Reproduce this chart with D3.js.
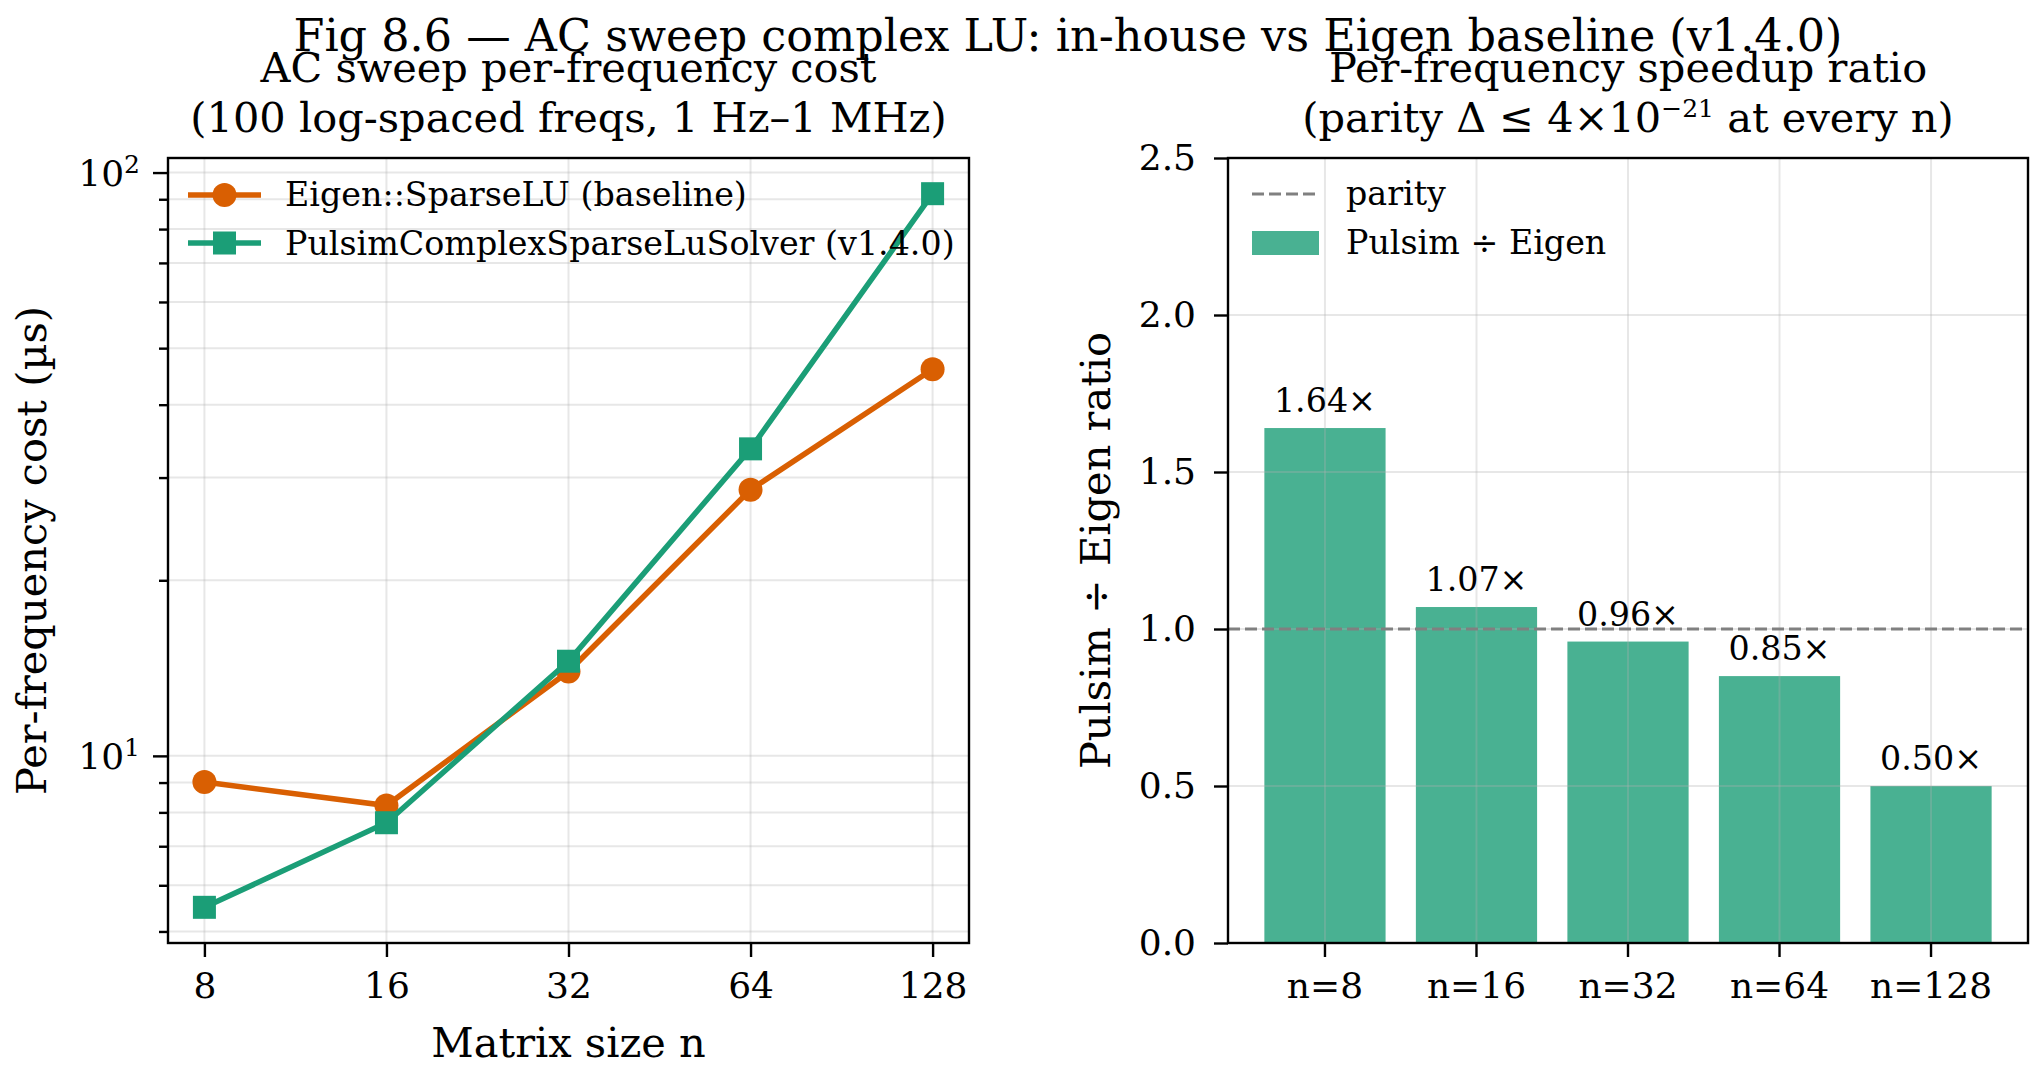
<!DOCTYPE html>
<html>
<head>
<meta charset="utf-8">
<script src="https://cdn.jsdelivr.net/npm/d3@7"></script>
<style>
  body { margin: 0; background: #fff; }
  text { font-family: "DejaVu Serif", serif; fill: #000; }
</style>
</head>
<body>
<svg id="chart"></svg>
<script>
// Data
var nSizes = [8, 16, 32, 64, 128];
var eigenCost = [9.02, 8.22, 13.95, 28.6, 46.0];     // Eigen::SparseLU, us per frequency
var pulsimCost = [5.50, 7.68, 14.53, 33.6, 92.0];    // Pulsim solver, us per frequency
var ratioLabels = ["n=8", "n=16", "n=32", "n=64", "n=128"];
var ratios = [1.64, 1.07, 0.96, 0.85, 0.50];
var ratioTicks = [0, 0.5, 1.0, 1.5, 2.0, 2.5];

var w = 2042, h = 1082;
var plotTop = 158, plotBottom = 943;
var L = {x0: 168, x1: 969};
var R = {x0: 1228, x1: 2028};
var orange = "#d95f02", green = "#1b9e77";

var svg = d3.select("#chart").attr("width", w).attr("height", h);

// ---------- left panel: per-frequency cost (log-log) ----------
var xScale = d3.scaleLog().base(2)
    .domain([8 / Math.pow(2, 0.2), 128 * Math.pow(2, 0.2)])
    .range([L.x0, L.x1]);

var all = eigenCost.concat(pulsimCost);
var lo = Math.log10(d3.min(all)), hi = Math.log10(d3.max(all)), m = (hi - lo) * 0.05;
var yScale = d3.scaleLog()
    .domain([Math.pow(10, lo - m), Math.pow(10, hi + m)])
    .range([plotBottom, plotTop]);

var yAll = yScale.ticks();
var yMajor = yAll.filter(d => Math.abs(Math.log10(d) - Math.round(Math.log10(d))) < 1e-9);
var yMinor = yAll.filter(d => yMajor.indexOf(d) < 0);

var gl = svg.append("g");

// grid
gl.selectAll(".hg").data(yAll).enter().append("line")
  .attr("x1", L.x0).attr("x2", L.x1)
  .attr("y1", d => yScale(d)).attr("y2", d => yScale(d))
  .attr("stroke", "#b0b0b0").attr("stroke-opacity", 0.3).attr("stroke-width", 2);
gl.selectAll(".vg").data(nSizes).enter().append("line")
  .attr("x1", d => xScale(d)).attr("x2", d => xScale(d))
  .attr("y1", plotTop).attr("y2", plotBottom)
  .attr("stroke", "#b0b0b0").attr("stroke-opacity", 0.3).attr("stroke-width", 2);

var line = d3.line().x((d, i) => xScale(nSizes[i])).y(d => yScale(d));

// Eigen series
gl.append("path").datum(eigenCost).attr("d", line)
  .attr("fill", "none").attr("stroke", orange).attr("stroke-width", 5.5);
gl.selectAll(".ec").data(eigenCost).enter().append("circle")
  .attr("cx", (d, i) => xScale(nSizes[i])).attr("cy", d => yScale(d))
  .attr("r", 12).attr("fill", orange);

// Pulsim series
gl.append("path").datum(pulsimCost).attr("d", line)
  .attr("fill", "none").attr("stroke", green).attr("stroke-width", 5.5);
gl.selectAll(".pc").data(pulsimCost).enter().append("rect")
  .attr("x", (d, i) => xScale(nSizes[i]) - 11.5).attr("y", d => yScale(d) - 11.5)
  .attr("width", 23).attr("height", 23).attr("fill", green);

// axes
gl.append("g").attr("transform", `translate(0,${plotBottom})`)
  .call(d3.axisBottom(xScale).tickValues(nSizes).tickFormat(d3.format("d"))
        .tickSize(14).tickPadding(15));
var yAxisL = gl.append("g").attr("transform", `translate(${L.x0},0)`)
  .call(d3.axisLeft(yScale).tickValues(yMajor).tickSize(15).tickPadding(13).tickFormat(""));
gl.append("g").attr("transform", `translate(${L.x0},0)`)
  .call(d3.axisLeft(yScale).tickValues(yMinor).tickSize(9).tickFormat(""));

// log tick labels with superscript exponent
yAxisL.selectAll(".tick text").each(function(d) {
  var t = d3.select(this).attr("dy", null).attr("y", 13);
  t.append("tspan").text("10");
  t.append("tspan").attr("font-size", 25).attr("dy", -13).text(Math.round(Math.log10(d)));
});

gl.append("rect").attr("x", L.x0).attr("y", plotTop)
  .attr("width", L.x1 - L.x0).attr("height", plotBottom - plotTop)
  .attr("fill", "none").attr("stroke", "#000").attr("stroke-width", 2.4);

// axis labels + title
gl.append("text").attr("x", (L.x0 + L.x1) / 2).attr("y", 1057)
  .attr("text-anchor", "middle").attr("font-size", 41.5).text("Matrix size n");
gl.append("text").attr("transform", `translate(46,${(plotTop + plotBottom) / 2}) rotate(-90)`)
  .attr("text-anchor", "middle").attr("font-size", 41.5).text("Per-frequency cost (\u00b5s)");
gl.append("text").attr("x", (L.x0 + L.x1) / 2).attr("y", 82)
  .attr("text-anchor", "middle").attr("font-size", 41.5).text("AC sweep per-frequency cost");
gl.append("text").attr("x", (L.x0 + L.x1) / 2).attr("y", 132)
  .attr("text-anchor", "middle").attr("font-size", 41.5).text("(100 log-spaced freqs, 1 Hz\u20131 MHz)");

// legend
var legL = gl.append("g");
legL.append("line").attr("x1", 188).attr("x2", 261).attr("y1", 195).attr("y2", 195)
  .attr("stroke", orange).attr("stroke-width", 5.5);
legL.append("circle").attr("cx", 224.5).attr("cy", 195).attr("r", 12).attr("fill", orange);
legL.append("text").attr("x", 285).attr("y", 206).attr("font-size", 33.3).text("Eigen::SparseLU (baseline)");
legL.append("line").attr("x1", 188).attr("x2", 261).attr("y1", 243).attr("y2", 243)
  .attr("stroke", green).attr("stroke-width", 5.5);
legL.append("rect").attr("x", 213).attr("y", 231.5).attr("width", 23).attr("height", 23).attr("fill", green);
legL.append("text").attr("x", 285).attr("y", 255).attr("font-size", 33.3).text("PulsimComplexSparseLuSolver (v1.4.0)");

// ---------- right panel: speedup ratio bars ----------
var xBand = d3.scaleBand().domain(ratioLabels).range([R.x0, R.x1])
  .paddingInner(0.2).paddingOuter(0.24);
var yRatio = d3.scaleLinear().domain([0, 2.5]).range([plotBottom, plotTop]);

var gr = svg.append("g");

gr.selectAll(".bar").data(ratios).enter().append("rect")
  .attr("x", (d, i) => xBand(ratioLabels[i])).attr("width", xBand.bandwidth())
  .attr("y", d => yRatio(d)).attr("height", d => plotBottom - yRatio(d))
  .attr("fill", green).attr("fill-opacity", 0.8);

// grid sits over the bars
gr.selectAll(".hg").data(ratioTicks).enter().append("line")
  .attr("x1", R.x0).attr("x2", R.x1)
  .attr("y1", d => yRatio(d)).attr("y2", d => yRatio(d))
  .attr("stroke", "#b0b0b0").attr("stroke-opacity", 0.3).attr("stroke-width", 2);
gr.selectAll(".vg").data(ratioLabels).enter().append("line")
  .attr("x1", d => xBand(d) + xBand.bandwidth() / 2).attr("x2", d => xBand(d) + xBand.bandwidth() / 2)
  .attr("y1", plotTop).attr("y2", plotBottom)
  .attr("stroke", "#b0b0b0").attr("stroke-opacity", 0.3).attr("stroke-width", 2);

// parity line
gr.append("line").attr("x1", R.x0).attr("x2", R.x1)
  .attr("y1", yRatio(1)).attr("y2", yRatio(1))
  .attr("stroke", "#808080").attr("stroke-width", 3).attr("stroke-dasharray", "12,5");

// bar value labels
gr.selectAll(".lbl").data(ratios).enter().append("text")
  .attr("x", (d, i) => xBand(ratioLabels[i]) + xBand.bandwidth() / 2)
  .attr("y", d => yRatio(d) - 16)
  .attr("text-anchor", "middle").attr("font-size", 33.3)
  .text(d => d3.format(".2f")(d) + "\u00d7");

gr.append("g").attr("transform", `translate(0,${plotBottom})`)
  .call(d3.axisBottom(xBand).tickSize(14).tickPadding(15));
gr.append("g").attr("transform", `translate(${R.x0},0)`)
  .call(d3.axisLeft(yRatio).tickValues(ratioTicks).tickFormat(d3.format(".1f"))
        .tickSize(14).tickPadding(18));

gr.append("rect").attr("x", R.x0).attr("y", plotTop)
  .attr("width", R.x1 - R.x0).attr("height", plotBottom - plotTop)
  .attr("fill", "none").attr("stroke", "#000").attr("stroke-width", 2.4);

gr.append("text").attr("transform", `translate(1110,${(plotTop + plotBottom) / 2}) rotate(-90)`)
  .attr("text-anchor", "middle").attr("font-size", 41.5).text("Pulsim \u00f7 Eigen ratio");
gr.append("text").attr("x", (R.x0 + R.x1) / 2).attr("y", 82)
  .attr("text-anchor", "middle").attr("font-size", 41.5).text("Per-frequency speedup ratio");
var t2 = gr.append("text").attr("x", (R.x0 + R.x1) / 2).attr("y", 132)
  .attr("text-anchor", "middle").attr("font-size", 41.5);
t2.append("tspan").text("(parity \u0394 \u2264 4\u00d710");
t2.append("tspan").attr("font-size", 25).attr("dy", -15).text("\u221221");
t2.append("tspan").attr("dy", 15).text(" at every n)");

// legend
var legR = gr.append("g");
legR.append("line").attr("x1", 1252).attr("x2", 1319).attr("y1", 194).attr("y2", 194)
  .attr("stroke", "#808080").attr("stroke-width", 3).attr("stroke-dasharray", "12,5");
legR.append("text").attr("x", 1346).attr("y", 205).attr("font-size", 33.3).text("parity");
legR.append("rect").attr("x", 1252).attr("y", 231).attr("width", 67).attr("height", 24)
  .attr("fill", green).attr("fill-opacity", 0.8);
legR.append("text").attr("x", 1346).attr("y", 254).attr("font-size", 33.3).text("Pulsim \u00f7 Eigen");

// shared tick styling
svg.selectAll(".tick text").attr("font-size", 36).attr("font-family", "DejaVu Serif");
svg.selectAll(".tick line").attr("stroke", "#000").attr("stroke-width", 2.4);
svg.selectAll(".domain").remove();

// figure title
svg.append("text").attr("x", 1068).attr("y", 51).attr("text-anchor", "middle")
  .attr("font-size", 44.5).text("Fig 8.6 \u2014 AC sweep complex LU: in-house vs Eigen baseline (v1.4.0)");
</script>
</body>
</html>
